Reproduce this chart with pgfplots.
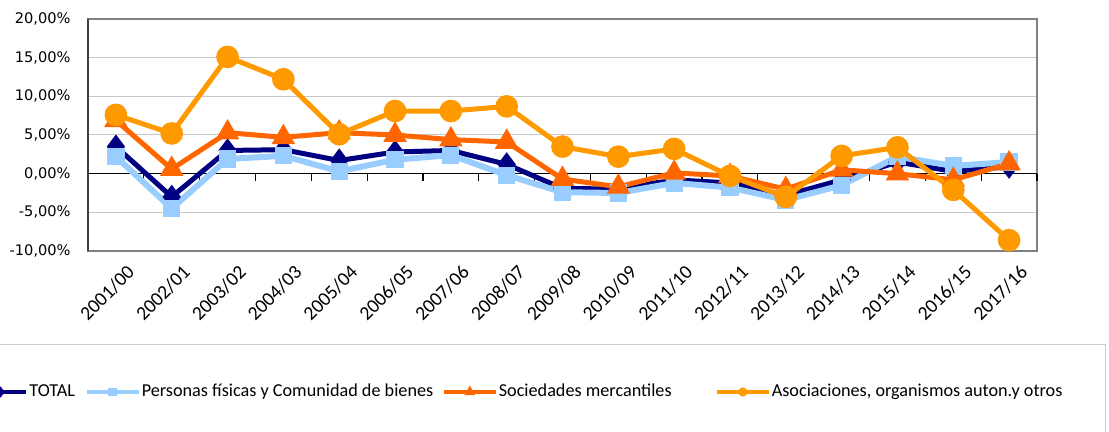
\documentclass[border=0pt]{standalone}
\usepackage{pgfplots}
\pgfplotsset{compat=1.18}
\usepackage{fontspec}
\setmainfont{Carlito}
\newfontfamily\dejavu{DejaVu Sans}
\definecolor{cTotal}{HTML}{000080}
\definecolor{cPers}{HTML}{99CCFF}
\definecolor{cSoc}{HTML}{FF6600}
\definecolor{cAso}{HTML}{FF9900}
\begin{document}
\begin{tikzpicture}
\path[use as bounding box] (-44pt,-90.5pt) rectangle (510.5pt,125.5pt);
\begin{axis}[
  scale only axis,
  width=474.5pt, height=116pt,
  xmin=-0.5, xmax=16.5,
  ymin=-10, ymax=20,
  xtick={0,...,16},
  xticklabels={2001/00,2002/01,2003/02,2004/03,2005/04,2006/05,2007/06,2008/07,2009/08,2010/09,2011/10,2012/11,2013/12,2014/13,2015/14,2016/15,2017/16},
  ytick={-10,-5,0,5,10,15,20},
  yticklabels={{-10,00\%},{-5,00\%},{0,00\%},{5,00\%},{10,00\%},{15,00\%},{20,00\%}},
  tick style={draw=none},
  xticklabel style={font=\fontsize{9.8}{11}\selectfont, rotate=45, anchor=north east, inner sep=0pt, xshift=-1pt, yshift=-8pt},
  yticklabel style={font=\dejavu\fontsize{7.3}{9}\selectfont, anchor=east, inner sep=0pt, xshift=-8.5pt},
  ymajorgrids,
  grid style={draw=black!22, line width=0.5pt},
  axis line style={draw=black!50, line width=0.8pt},
  clip=false,
  legend columns=4,
  legend style={at={(-0.1222,-0.6078)}, anchor=west, draw=none, fill=none, inner sep=0pt,
    font=\fontsize{9.1}{11}\selectfont,
    nodes={inner sep=0pt},
    /tikz/every odd column/.append style={column sep=0.5pt},
    /tikz/every even column/.append style={column sep=0pt}},
]
\draw[black!75, line width=0.9pt] (axis cs:-0.5,-10) -- (axis cs:-0.5,20);
\draw[black, line width=0.6pt] (axis cs:-0.5,0) -- (axis cs:16.5,0);
\draw[black, line width=0.6pt] (axis cs:0.5,0) -- ([yshift=-3.5pt]axis cs:0.5,0);
\draw[black, line width=0.6pt] (axis cs:1.5,0) -- ([yshift=-3.5pt]axis cs:1.5,0);
\draw[black, line width=0.6pt] (axis cs:2.5,0) -- ([yshift=-3.5pt]axis cs:2.5,0);
\draw[black, line width=0.6pt] (axis cs:3.5,0) -- ([yshift=-3.5pt]axis cs:3.5,0);
\draw[black, line width=0.6pt] (axis cs:4.5,0) -- ([yshift=-3.5pt]axis cs:4.5,0);
\draw[black, line width=0.6pt] (axis cs:5.5,0) -- ([yshift=-3.5pt]axis cs:5.5,0);
\draw[black, line width=0.6pt] (axis cs:6.5,0) -- ([yshift=-3.5pt]axis cs:6.5,0);
\draw[black, line width=0.6pt] (axis cs:7.5,0) -- ([yshift=-3.5pt]axis cs:7.5,0);
\draw[black, line width=0.6pt] (axis cs:8.5,0) -- ([yshift=-3.5pt]axis cs:8.5,0);
\draw[black, line width=0.6pt] (axis cs:9.5,0) -- ([yshift=-3.5pt]axis cs:9.5,0);
\draw[black, line width=0.6pt] (axis cs:10.5,0) -- ([yshift=-3.5pt]axis cs:10.5,0);
\draw[black, line width=0.6pt] (axis cs:11.5,0) -- ([yshift=-3.5pt]axis cs:11.5,0);
\draw[black, line width=0.6pt] (axis cs:12.5,0) -- ([yshift=-3.5pt]axis cs:12.5,0);
\draw[black, line width=0.6pt] (axis cs:13.5,0) -- ([yshift=-3.5pt]axis cs:13.5,0);
\draw[black, line width=0.6pt] (axis cs:14.5,0) -- ([yshift=-3.5pt]axis cs:14.5,0);
\draw[black, line width=0.6pt] (axis cs:15.5,0) -- ([yshift=-3.5pt]axis cs:15.5,0);
\draw[black, line width=0.6pt] (axis cs:16.5,0) -- ([yshift=-3.5pt]axis cs:16.5,0);
\addplot[cTotal, line width=2.5pt, mark=diamond*, mark size=4pt,
  legend image code/.code={\draw[cTotal, line width=2pt] (0pt,0pt) -- (26pt,0pt); \path[fill=cTotal, draw=none] (13pt,2.8pt) -- (15.2pt,0pt) -- (13pt,-2.8pt) -- (10.8pt,0pt) -- cycle;}] coordinates {
(0,3.5)(1,-3.0)(2,3.0)(3,3.1)(4,1.7)(5,2.8)(6,3.0)(7,1.2)(8,-1.9)(9,-2.0)(10,-0.8)(11,-1.2)(12,-2.8)(13,-0.8)(14,1.5)(15,0.3)(16,0.9)};
\addlegendentry{\makebox[27.5pt][l]{TOTAL}}
\addplot[cPers, line width=3pt, mark=square*, mark size=2.8pt,
  legend image code/.code={\draw[cPers, line width=2.2pt] (0pt,0pt) -- (26pt,0pt); \path[fill=cPers, draw=none] (10.8pt,-2.2pt) rectangle (15.2pt,2.2pt);}] coordinates {
(0,2.2)(1,-4.5)(2,1.9)(3,2.3)(4,0.3)(5,1.8)(6,2.4)(7,-0.2)(8,-2.4)(9,-2.5)(10,-1.2)(11,-1.8)(12,-3.4)(13,-1.5)(14,2.2)(15,1.0)(16,1.5)};
\addlegendentry{\makebox[150pt][l]{Personas físicas y Comunidad de bienes}}
\addplot[cSoc, line width=2.5pt, mark=triangle*, mark size=4.3pt,
  legend image code/.code={\draw[cSoc, line width=2pt] (0pt,0pt) -- (26pt,0pt); \path[fill=cSoc, draw=none] (13pt,3.2pt) -- (15.8pt,-1.6pt) -- (10.2pt,-1.6pt) -- cycle;}] coordinates {
(0,6.9)(1,0.6)(2,5.3)(3,4.7)(4,5.3)(5,5.0)(6,4.4)(7,4.1)(8,-0.7)(9,-1.7)(10,0.1)(11,-0.3)(12,-2.0)(13,0.5)(14,0.0)(15,-0.8)(16,1.3)};
\addlegendentry{\makebox[108pt][l]{Sociedades mercantiles}}
\addplot[cAso, line width=2.5pt, mark=*, mark size=4.4pt,
  legend image code/.code={\draw[cAso, line width=2pt] (0pt,0pt) -- (26pt,0pt); \path[fill=cAso, draw=none] (13pt,0pt) circle (2.3pt);}] coordinates {
(0,7.6)(1,5.2)(2,15.1)(3,12.2)(4,5.1)(5,8.1)(6,8.1)(7,8.7)(8,3.5)(9,2.2)(10,3.2)(11,-0.3)(12,-3.0)(13,2.3)(14,3.4)(15,-2.1)(16,-8.6)};
\addlegendentry{\makebox[163.5pt][l]{Asociaciones, organismos auton.y otros}}
\end{axis}
\draw[black!20, line width=0.5pt] (-50pt,-47pt) rectangle (508.5pt,-110pt);
\end{tikzpicture}
\end{document}
